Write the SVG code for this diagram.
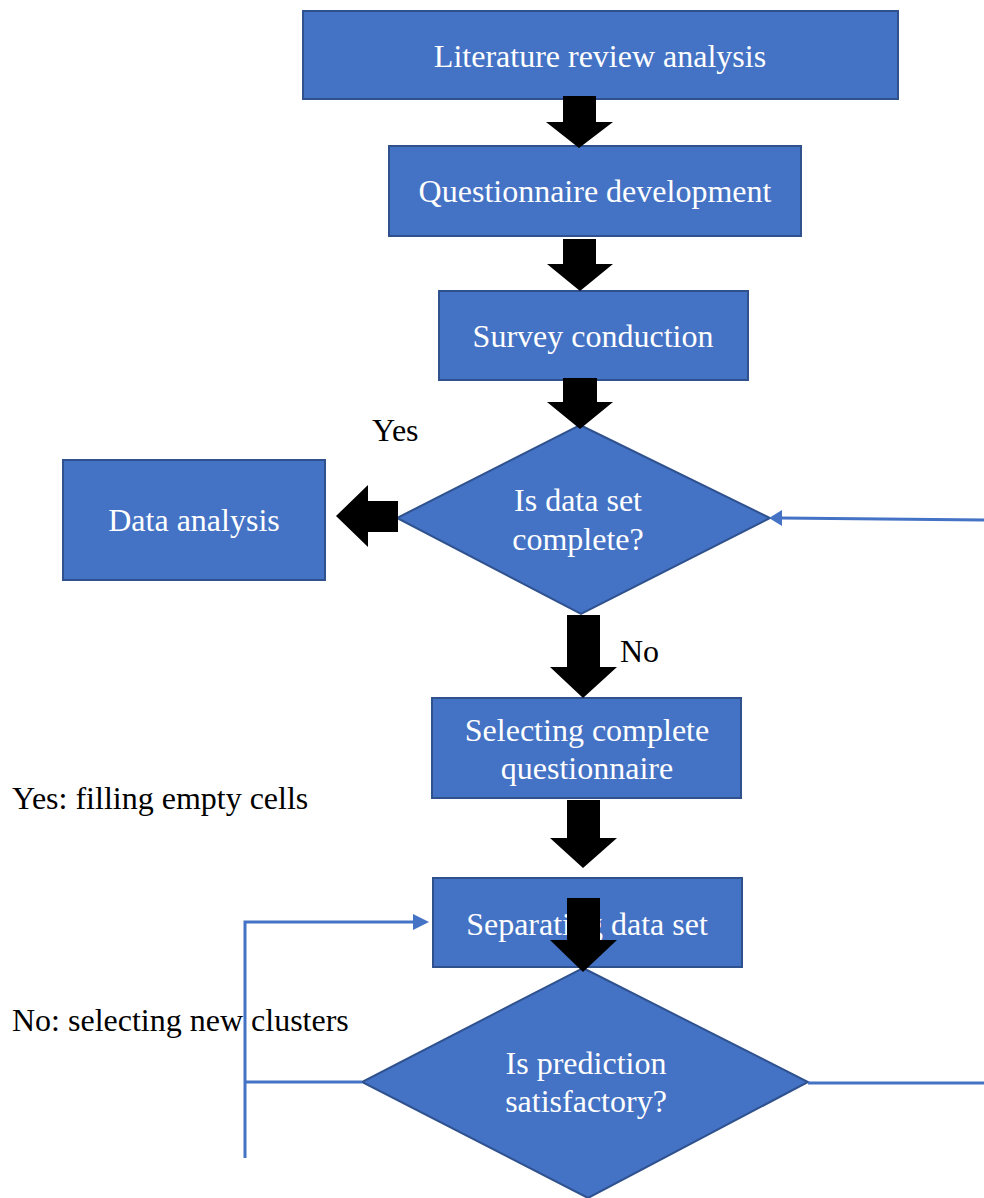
<svg xmlns="http://www.w3.org/2000/svg" width="984" height="1198" viewBox="0 0 984 1198">
  <defs>
    <style>
      .box { fill: #4472C4; stroke: #2F528F; stroke-width: 2; }
      .lbl { font-family: "Liberation Serif", "Times New Roman", serif; font-size: 32px; fill: #ffffff; text-anchor: middle; }
      .note { font-family: "Liberation Serif", "Times New Roman", serif; font-size: 32px; fill: #000000; }
      .block { fill: #000000; }
      .link { fill: none; stroke: #4472C4; stroke-width: 3; }
      .head { fill: #4472C4; }
    </style>
  </defs>
  <rect width="984" height="1198" fill="#ffffff"/>

  <g id="literature-review">
    <rect class="box" x="303" y="11" width="595" height="88"/>
    <text class="lbl" x="600" y="67">Literature review analysis</text>
  </g>

  <g id="questionnaire-development">
    <rect class="box" x="389" y="146" width="412" height="90"/>
    <text class="lbl" x="595" y="202">Questionnaire development</text>
  </g>

  <g id="survey-conduction">
    <rect class="box" x="439" y="291" width="309" height="89"/>
    <text class="lbl" x="593" y="347">Survey conduction</text>
  </g>

  <g id="data-complete">
    <polygon class="box" points="580,425 770,518 581,614 397,518"/>
    <text class="lbl" x="578" y="511">Is data set</text>
    <text class="lbl" x="578" y="550">complete?</text>
  </g>

  <g id="data-analysis">
    <rect class="box" x="63" y="460" width="262" height="120"/>
    <text class="lbl" x="194" y="531">Data analysis</text>
  </g>

  <g id="selecting-complete">
    <rect class="box" x="432" y="698" width="309" height="100"/>
    <text class="lbl" x="587" y="741">Selecting complete</text>
    <text class="lbl" x="587" y="779">questionnaire</text>
  </g>

  <g id="separating-data">
    <rect class="box" x="433" y="878" width="309" height="89"/>
    <text class="lbl" x="587" y="935">Separating data set</text>
  </g>

  <g id="prediction-satisfactory">
    <polygon class="box" points="583,968 808,1082 588,1198 362,1082"/>
    <text class="lbl" x="586" y="1074">Is prediction</text>
    <text class="lbl" x="586" y="1112">satisfactory?</text>
  </g>

  <g id="connectors">
    <!-- block arrows between steps -->
    <polygon class="block" points="563,96 596,96 596,122 613,122 579,148 546,122 563,122"/>
    <polygon class="block" points="563,239 596,239 596,264 613,264 580,291 547,264 563,264"/>
    <polygon class="block" points="563,378 597,378 597,402 613,402 580,429 547,402 563,402"/>
    <polygon class="block" points="398,501 398,532 368,532 368,547 336,516 368,485 368,501"/>
    <polygon class="block" points="567,615 600,615 600,667 617,667 583,698 550,667 567,667"/>
    <polygon class="block" points="567,800 600,800 600,838 617,838 583,868 550,838 567,838"/>
    <polygon class="block" points="567,898 600,898 600,940 617,940 583,972 550,940 567,940"/>

    <!-- feedback line into the first decision -->
    <line class="link" x1="984" y1="520" x2="781" y2="518"/>
    <polygon class="head" points="769,518 782,510 782,526"/>

    <!-- loop back from the second decision -->
    <polyline class="link" points="362,1082 245,1082"/>
    <polyline class="link" points="245,1158 245,922 414,922"/>
    <polygon class="head" points="429,922 413,914 413,930"/>

    <line class="link" x1="808" y1="1083" x2="984" y2="1083"/>
  </g>

  <g id="labels">
    <text class="note" x="372" y="441">Yes</text>
    <text class="note" x="620" y="662">No</text>
    <text class="note" x="12" y="809">Yes: filling empty cells</text>
    <text class="note" x="12" y="1031">No: selecting new clusters</text>
  </g>
</svg>
